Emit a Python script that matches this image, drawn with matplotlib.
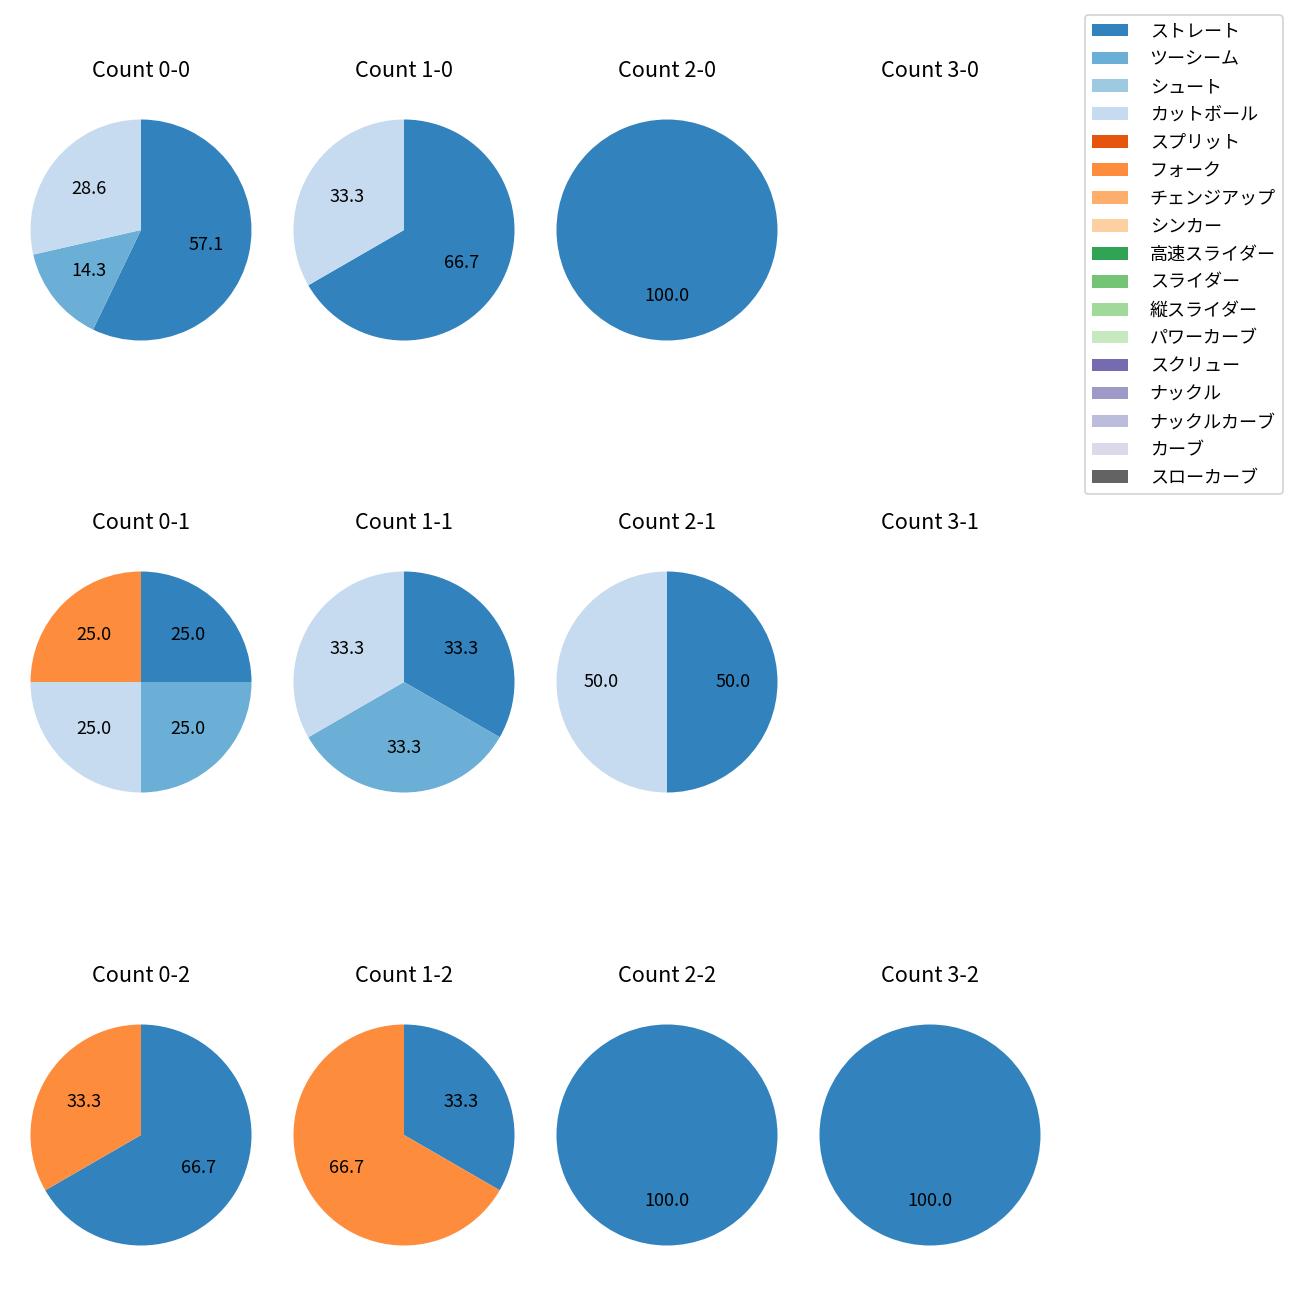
import matplotlib
matplotlib.use("Agg")
import matplotlib.pyplot as plt
from matplotlib.patches import Patch

plt.rcParams['font.family'] = ['Noto Sans CJK JP', 'DejaVu Sans']

pitch_types = ["ストレート", "ツーシーム", "シュート", "カットボール", "スプリット", "フォーク",
               "チェンジアップ", "シンカー", "高速スライダー", "スライダー", "縦スライダー",
               "パワーカーブ", "スクリュー", "ナックル", "ナックルカーブ", "カーブ", "スローカーブ"]

counts = ["0-0", "1-0", "2-0", "3-0",
          "0-1", "1-1", "2-1", "3-1",
          "0-2", "1-2", "2-2", "3-2"]

# pitch counts per ball-strike count (only non-zero pitch types listed)
values = {
    "0-0": {"ストレート": 4, "ツーシーム": 1, "カットボール": 2},
    "1-0": {"ストレート": 2, "カットボール": 1},
    "2-0": {"ストレート": 1},
    "3-0": {},
    "0-1": {"ストレート": 1, "ツーシーム": 1, "カットボール": 1, "フォーク": 1},
    "1-1": {"ストレート": 1, "ツーシーム": 1, "カットボール": 1},
    "2-1": {"ストレート": 1, "カットボール": 1},
    "3-1": {},
    "0-2": {"ストレート": 2, "フォーク": 1},
    "1-2": {"ストレート": 1, "フォーク": 2},
    "2-2": {"ストレート": 1},
    "3-2": {"ストレート": 1},
}

cmap = plt.get_cmap("tab20c")
colors = {p: cmap(i) for i, p in enumerate(pitch_types)}

W = H = 1300
fig = plt.figure(figsize=(10, 10), dpi=130)

col_cx = [141, 404, 667, 930]
row_cy = [230, 682, 1135]
R = 110.5
side = 2 * 1.25 * R

for i, cnt in enumerate(counts):
    r, c = divmod(i, 4)
    cx, cy = col_cx[c], row_cy[r]
    ax = fig.add_axes([(cx - side / 2) / W, 1 - (cy + side / 2) / H, side / W, side / H])
    d = values[cnt]
    labs = [p for p in pitch_types if d.get(p, 0) > 0]
    vals = [d[p] for p in labs]
    if vals:
        ax.pie(vals, colors=[colors[p] for p in labs], startangle=90, counterclock=False,
               autopct='%.1f', pctdistance=0.6, textprops={'fontsize': 10})
    else:
        ax.set_xlim(-1.25, 1.25)
        ax.set_ylim(-1.25, 1.25)
        ax.axis('off')
    ax.set_aspect('equal')
    ax.set_title(f"Count {cnt}", fontsize=12, pad=8)

handles = [Patch(facecolor=colors[p], label=p) for p in pitch_types]
fig.legend(handles=handles, loc='upper right', bbox_to_anchor=(0.9938, 0.9954),
           fontsize=10, labelspacing=0.55, handletextpad=1.2)

fig.savefig("out.png", dpi=130)
